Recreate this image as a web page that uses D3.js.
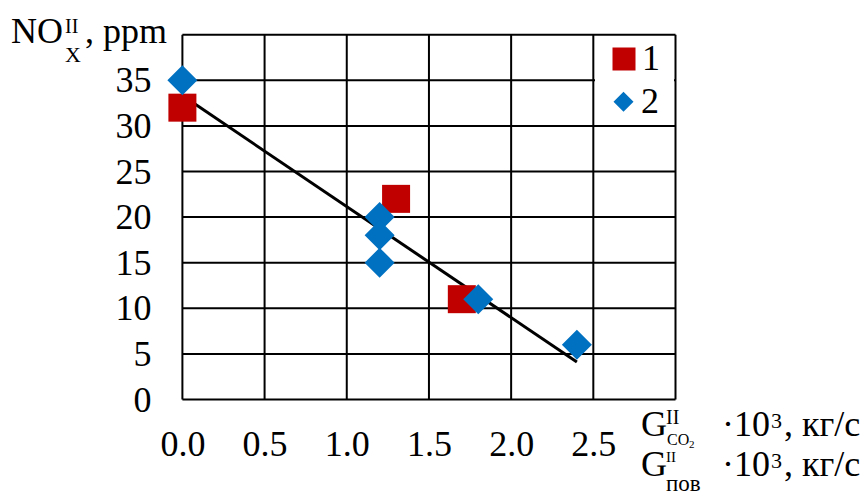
<!DOCTYPE html>
<html>
<head>
<meta charset="utf-8">
<script src="https://cdn.jsdelivr.net/npm/d3@7"></script>
<style>
  html, body { margin: 0; padding: 0; background: #fff; }
  svg { display: block; font-family: "Liberation Serif", "Times New Roman", serif; }
</style>
</head>
<body>
<svg id="chart" width="860" height="503"></svg>
<script>
// Series 1: squares, series 2: diamonds (x in kg/s ×10^3, y in ppm)
const series1X = [0.0, 1.3, 1.7];
const series1Y = [32, 22, 11];
const series2X = [0.0, 1.2, 1.2, 1.2, 1.8, 2.4];
const series2Y = [35, 20, 18, 15, 11, 6];
const seriesNames = ["1", "2"];
const seriesColors = ["#C00000", "#0070C0"];
const xTicks = [0.0, 0.5, 1.0, 1.5, 2.0, 2.5];
const xGrid = [0.0, 0.5, 1.0, 1.5, 2.0, 2.5, 3.0];
const yTicks = [0, 5, 10, 15, 20, 25, 30, 35];
const yGrid = [0, 5, 10, 15, 20, 25, 30, 35, 40];

const svg = d3.select("#chart");
const plot = { left: 182.4, right: 675.5, top: 34.7, bottom: 399.5 };

const x = d3.scaleLinear().domain([0, 3]).range([plot.left, plot.right]);
const y = d3.scaleLinear().domain([0, 40]).range([plot.bottom, plot.top]);

// grid
const g = svg.append("g");
g.selectAll("line.v").data(xGrid).join("line")
  .attr("x1", d => x(d)).attr("x2", d => x(d))
  .attr("y1", plot.top).attr("y2", plot.bottom)
  .attr("stroke", "#000").attr("stroke-width", 2);
g.selectAll("line.h").data(yGrid).join("line")
  .attr("x1", plot.left).attr("x2", plot.right)
  .attr("y1", d => y(d)).attr("y2", d => y(d))
  .attr("stroke", "#000").attr("stroke-width", 2);

// axes (labels only)
const yAxis = svg.append("g")
  .attr("transform", `translate(${plot.left},0)`)
  .call(d3.axisLeft(y).tickValues(yTicks).tickSize(0).tickPadding(31));
const xAxis = svg.append("g")
  .attr("transform", `translate(0,${plot.bottom})`)
  .call(d3.axisBottom(x).tickValues(xTicks).tickFormat(d3.format(".1f")).tickSize(0).tickPadding(31));
[yAxis, xAxis].forEach(a => {
  a.attr("font-family", null);
  a.select(".domain").remove();
  a.selectAll("text").attr("font-family", "Liberation Serif").attr("font-size", 36).attr("fill", "#000");
});

// legend background
svg.append("rect")
  .attr("x", 595).attr("y", 36).attr("width", 79).attr("height", 88)
  .attr("fill", "#fff");

// least-squares trend line for series 2
const mx = d3.mean(series2X), my = d3.mean(series2Y);
const sxy = d3.sum(series2X, (v, i) => (v - mx) * (series2Y[i] - my));
const sxx = d3.sum(series2X, v => (v - mx) * (v - mx));
const slope = sxy / sxx, intercept = my - slope * mx;
const xs = d3.extent(series2X);
svg.append("path")
  .datum(xs.map(v => [v, intercept + slope * v]))
  .attr("d", d3.line().x(d => x(d[0])).y(d => y(d[1])))
  .attr("stroke", "#000").attr("stroke-width", 3).attr("fill", "none");

// markers
const squareSize = 28;
svg.selectAll("rect.s1").data(series1X.map((v, i) => [v, series1Y[i]])).join("rect")
  .attr("x", d => x(d[0]) - squareSize / 2).attr("y", d => y(d[1]) - squareSize / 2)
  .attr("width", squareSize).attr("height", squareSize)
  .attr("fill", seriesColors[0]);

const diamond = r => `M0,${-r}L${r},0L0,${r}L${-r},0Z`;
svg.selectAll("path.s2").data(series2X.map((v, i) => [v, series2Y[i]])).join("path")
  .attr("transform", d => `translate(${x(d[0])},${y(d[1])})`)
  .attr("d", diamond(15))
  .attr("fill", seriesColors[1]);

// legend
const lg = svg.append("g");
lg.append("rect").attr("x", 624 - 11.5).attr("y", 59 - 11.5).attr("width", 23).attr("height", 23)
  .attr("fill", seriesColors[0]);
lg.append("path").attr("transform", "translate(623.5,101.7)").attr("d", diamond(10))
  .attr("fill", seriesColors[1]);
lg.append("text").attr("x", 642).attr("y", 70).attr("font-size", 36).text(seriesNames[0]);
lg.append("text").attr("x", 641).attr("y", 113).attr("font-size", 36).text(seriesNames[1]);

// y-axis title: NO_X^II, ppm
const yt = svg.append("text").attr("fill", "#000");
[
  { x: 11, y: 43, size: 36, text: "NO" },
  { x: 65, y: 62, size: 22, text: "X" },
  { x: 65, y: 33, size: 20, text: "II" },
  { x: 85, y: 43, size: 36, text: ", ppm" }
].forEach(p => yt.append("tspan").attr("x", p.x).attr("y", p.y).attr("font-size", p.size).text(p.text));

// x-axis title, two stacked lines in one text block
const xt = svg.append("text").attr("fill", "#000");
function xTitleLine(baseY, supY, supSize, subParts) {
  const parts = [
    { x: 641, y: baseY, size: 36, text: "G" },
    { x: 666, y: supY, size: supSize, text: "II" },
    ...subParts,
    { x: 722, y: baseY, size: 36, text: "·10" },
    { x: 771, y: baseY - 8, size: 22, text: "3" },
    { x: 784, y: baseY, size: 36, text: ", кг/с" }
  ];
  parts.forEach(p => xt.append("tspan").attr("x", p.x).attr("y", p.y).attr("font-size", p.size).text(p.text));
}
xTitleLine(436, 424, 20, [
  { x: 667, y: 445, size: 16, text: "CO" },
  { x: 689, y: 448, size: 11, text: "2" }
]);
xTitleLine(476, 462, 15, [
  { x: 666, y: 491, size: 23, text: "пов" }
]);
</script>
</body>
</html>
